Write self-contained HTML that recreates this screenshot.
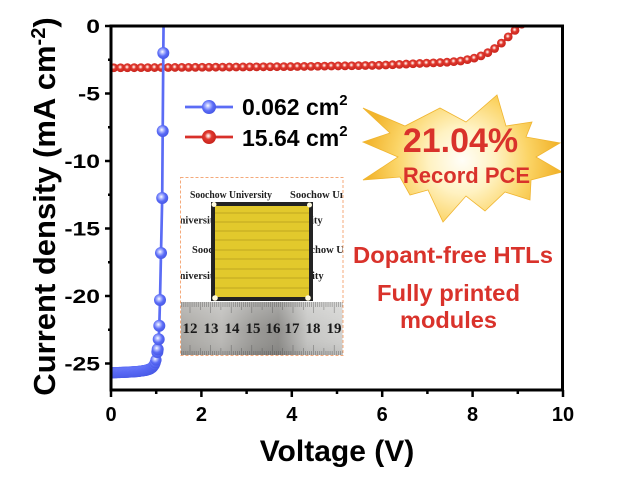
<!DOCTYPE html>
<html><head><meta charset="utf-8"><style>
html,body{margin:0;padding:0;background:#fff;}
svg{display:block;}
.b{font-family:"Liberation Sans",Arial,sans-serif;font-weight:bold;}
.s{font-family:"Liberation Serif","Times New Roman",serif;font-weight:bold;}
</style></head><body>
<svg id="s" width="623" height="487" viewBox="0 0 623 487" xmlns="http://www.w3.org/2000/svg">
<defs>
 <radialGradient id="gr" cx="0.45" cy="0.42" r="0.55">
  <stop offset="0" stop-color="#ffffff"/>
  <stop offset="0.18" stop-color="#f7c2ba"/>
  <stop offset="0.45" stop-color="#e0382e"/>
  <stop offset="1" stop-color="#c9251d"/>
 </radialGradient>
 <radialGradient id="gb" cx="0.42" cy="0.4" r="0.6">
  <stop offset="0" stop-color="#ffffff"/>
  <stop offset="0.25" stop-color="#b4bdff"/>
  <stop offset="0.62" stop-color="#5a6bf6"/>
  <stop offset="1" stop-color="#4859e6"/>
 </radialGradient>
 <radialGradient id="gstar" cx="462" cy="160" r="95" gradientUnits="userSpaceOnUse">
  <stop offset="0" stop-color="#fffef8"/>
  <stop offset="0.35" stop-color="#fff2c2"/>
  <stop offset="0.7" stop-color="#fbd466"/>
  <stop offset="1" stop-color="#f2b52e"/>
 </radialGradient>
 <linearGradient id="ruler" x1="0" x2="1" y1="0" y2="0">
  <stop offset="0" stop-color="#a9a7a3"/>
  <stop offset="0.25" stop-color="#bcbbb8"/>
  <stop offset="0.45" stop-color="#9b9a97"/>
  <stop offset="0.6" stop-color="#8e8d8a"/>
  <stop offset="0.78" stop-color="#c6c6c4"/>
  <stop offset="1" stop-color="#d2d2d0"/>
 </linearGradient>
 <linearGradient id="rulerv" x1="0" x2="0" y1="0" y2="1">
  <stop offset="0" stop-color="#ffffff" stop-opacity="0.25"/>
  <stop offset="0.5" stop-color="#ffffff" stop-opacity="0"/>
  <stop offset="1" stop-color="#000000" stop-opacity="0.1"/>
 </linearGradient>
 <clipPath id="plot"><rect x="111" y="26" width="452" height="364"/></clipPath>
 <clipPath id="inset"><rect x="181" y="178" width="161.5" height="177"/></clipPath>
</defs>

<!-- star -->
<polygon fill="url(#gstar)" stroke="#f0b530" stroke-width="0.8"
 points="363,108 405,126 440,108 466,122 497,95 506,126 532,122 526,137 560,143 536,157 562,172 531,180 530,200 505,192 485,211 466,196 443,222 428,190 410,195 400,177 363,180 398,157 363,142 390,133"/>
<text class="b" x="460.5" y="152" font-size="34" fill="#d9322b" text-anchor="middle">21.04%</text>
<text class="b" x="466.5" y="183" font-size="22" fill="#d9322b" text-anchor="middle">Record PCE</text>

<text class="b" x="353" y="263" font-size="23.5" fill="#d9322b" textLength="200" lengthAdjust="spacingAndGlyphs">Dopant-free HTLs</text>
<text class="b" x="377" y="301" font-size="23.5" fill="#d9322b" textLength="143" lengthAdjust="spacingAndGlyphs">Fully printed</text>
<text class="b" x="400" y="328" font-size="23.5" fill="#d9322b" textLength="97" lengthAdjust="spacingAndGlyphs">modules</text>

<!-- inset -->
<rect x="180.5" y="177.5" width="162.5" height="178" fill="#fff"/>
<g clip-path="url(#inset)">
 <g class="s" font-size="10.5" fill="#1e1e1e">
  <text x="190" y="198" textLength="82" lengthAdjust="spacingAndGlyphs">Soochow University</text>
  <text x="290" y="198">Soochow University</text>
  <text x="172" y="223.5">University</text>
  <text x="276" y="223.5">University</text>
  <text x="192" y="253">Soochow University</text>
  <text x="294" y="253">Soochow University</text>
  <text x="172" y="279">University</text>
  <text x="277" y="279">University</text>
 </g>
 <rect x="211" y="202" width="102" height="99" fill="#232323"/>
 <rect x="215" y="206" width="94" height="91" fill="#e2c92c"/>
 <g stroke="#b49c1c" stroke-width="0.8">
  <line x1="215" x2="309" y1="213" y2="213"/>
  <line x1="215" x2="309" y1="222" y2="222"/>
  <line x1="215" x2="309" y1="231" y2="231"/>
  <line x1="215" x2="309" y1="240" y2="240"/>
  <line x1="215" x2="309" y1="250" y2="250"/>
  <line x1="215" x2="309" y1="259" y2="259"/>
  <line x1="215" x2="309" y1="269" y2="269"/>
  <line x1="215" x2="309" y1="278" y2="278"/>
  <line x1="215" x2="309" y1="288" y2="288"/>
 </g>
 <circle cx="214" cy="204.5" r="2.5" fill="#fffbe0"/>
 <circle cx="309.5" cy="205" r="2.5" fill="#fffbe0"/>
 <circle cx="215" cy="298" r="2.8" fill="#fffbe0"/>
 <circle cx="308" cy="298" r="2.8" fill="#fffbe0"/>
 <rect x="181" y="302" width="162" height="54" fill="url(#ruler)"/>
 <rect x="181" y="302" width="162" height="54" fill="url(#rulerv)"/>
 <g id="rticks" stroke="#4a4a4a" stroke-width="0.6" opacity="0.6"></g>
 <g class="s" font-size="15" fill="#1a1a1a" text-anchor="middle">
  <text x="190" y="333">12</text><text x="211" y="333">13</text><text x="232" y="333">14</text><text x="253" y="333">15</text>
  <text x="273" y="333">16</text><text x="292" y="333">17</text><text x="313" y="333">18</text><text x="334" y="333">19</text>
 </g>
</g>
<rect x="180.5" y="177.5" width="162.5" height="178" fill="none" stroke="#f4a97a" stroke-width="1" stroke-dasharray="3,2"/>

<!-- data -->
<g clip-path="url(#plot)">
 <polyline id="rline" fill="none" stroke="#d8302a" stroke-width="2.5"/>
 <g id="rmk"></g>
 <polyline id="bline" fill="none" stroke="#5b6cf5" stroke-width="2.7"/>
 <g id="bmk"></g>
</g>

<!-- frame -->
<rect x="111" y="26" width="451.5" height="364" fill="none" stroke="#000" stroke-width="3"/>
<g id="ticks" stroke="#000" stroke-width="2.5"></g>

<!-- tick labels -->
<g class="b" font-size="20" text-anchor="middle" fill="#000">
 <text x="111" y="421">0</text><text x="201.4" y="421">2</text><text x="291.8" y="421">4</text>
 <text x="382.2" y="421">6</text><text x="472.6" y="421">8</text><text x="563" y="421">10</text>
</g>
<g class="b" font-size="19" text-anchor="end" fill="#000">
 <text transform="translate(100,32.8) scale(1.3,1)">0</text>
 <text transform="translate(100,100.3) scale(1.3,1)">-5</text>
 <text transform="translate(100,167.8) scale(1.3,1)">-10</text>
 <text transform="translate(100,235.3) scale(1.3,1)">-15</text>
 <text transform="translate(100,302.8) scale(1.3,1)">-20</text>
 <text transform="translate(100,370.3) scale(1.3,1)">-25</text>
</g>

<!-- axis titles -->
<text class="b" x="337" y="461" font-size="30" text-anchor="middle">Voltage (V)</text>
<text class="b" transform="translate(55,206.5) rotate(-90)" font-size="31" text-anchor="middle">Current density (mA cm<tspan font-size="20" dy="-10">-2</tspan><tspan dy="10">)</tspan></text>

<!-- legend -->
<line x1="185" x2="233" y1="107" y2="107" stroke="#5b6cf5" stroke-width="2.7"/>
<circle cx="209" cy="107" r="7" fill="url(#gb)"/>
<line x1="185" x2="233" y1="137" y2="137" stroke="#d8302a" stroke-width="2.7"/>
<circle cx="209" cy="137" r="7" fill="url(#gr)"/>
<text class="b" x="242" y="115" font-size="23">0.062 cm<tspan font-size="15" dy="-10">2</tspan></text>
<text class="b" x="242" y="146" font-size="23">15.64 cm<tspan font-size="15" dy="-10">2</tspan></text>
</svg>
<script>
(function(){
var NS="http://www.w3.org/2000/svg";
function el(n,a,p){var e=document.createElementNS(NS,n);for(var k in a)e.setAttribute(k,a[k]);p.appendChild(e);return e;}
function ix(k,x){for(var i=0;i<k.length-1;i++){if(x<=k[i+1][0]){var t=(x-k[i][0])/(k[i+1][0]-k[i][0]);return k[i][1]+t*(k[i+1][1]-k[i][1]);}}return k[k.length-1][1];}
function iy(k,y){for(var i=0;i<k.length-1;i++){var a=k[i],b=k[i+1];if((y<=a[1]&&y>=b[1])){var t=(y-a[1])/(b[1]-a[1]);return a[0]+t*(b[0]-a[0]);}}return k[k.length-1][0];}
var tg=document.getElementById("ticks");
for(var v=0;v<=10;v++){var x=111+v*45.2;el("line",{x1:x,x2:x,y1:390,y2:(v%2==0?397:394)},tg);}
for(var j=0;j<=10;j++){var y=26+j*33.75;if(y>390.5)break;el("line",{x1:(j%2==0?105:108),x2:111,y1:y,y2:y},tg);}
var rt=document.getElementById("rticks");
for(var m=-5;m<=80;m++){var x=190+m*2.06;if(x<181||x>343)continue;var L=(m%10==0)?11:((m%5==0)?8:5);
 el("line",{x1:x,x2:x,y1:302,y2:302+L},rt);el("line",{x1:x,x2:x,y1:356,y2:356-L},rt);}
var rk=[[111,67.8],[200,67.3],[300,66.5],[380,65.3],[423,63.3],[446,62.3],[461,61],[468,59.5],[476,57.7],[483.3,55],[491.7,50.7],[499.3,45],[506.7,38.3],[514.3,31],[522,24],[530,17]];
document.getElementById("rline").setAttribute("points",rk.map(function(p){return p.join(",");}).join(" "));
var rm=document.getElementById("rmk");
var xs=[];for(var x=521.8;x>=105;x-=6.8)xs.push(x);
xs.reverse().forEach(function(x){el("circle",{cx:x.toFixed(2),cy:ix(rk,Math.max(x,111)).toFixed(2),r:4.4,fill:"url(#gr)"},rm);});
var bk=[[111,372.8],[125,372.3],[138,371.5],[146,370.3],[150,369],[152.5,367.3],[154.5,364.5],[155.8,361],[156.8,356],[157.7,349.3],[158.7,339.3],[159.3,325.7],[160,300],[161,253],[162.2,198],[162.7,131],[163.3,53],[163.6,20]];
document.getElementById("bline").setAttribute("points",bk.map(function(p){return p.join(",");}).join(" "));
var bm=document.getElementById("bmk");
for(var x=108;x<=156.5;x+=0.8){var xx=Math.max(x,111);el("circle",{cx:x.toFixed(2),cy:ix(bk,xx).toFixed(2),r:5.6,fill:"url(#gb)"},bm);}
[352,349.3,339.3,325.7,300,253,198,131,53].forEach(function(y){el("circle",{cx:iy(bk,y).toFixed(2),cy:y,r:6,fill:"url(#gb)"},bm);});
})();
</script>
</body></html>
